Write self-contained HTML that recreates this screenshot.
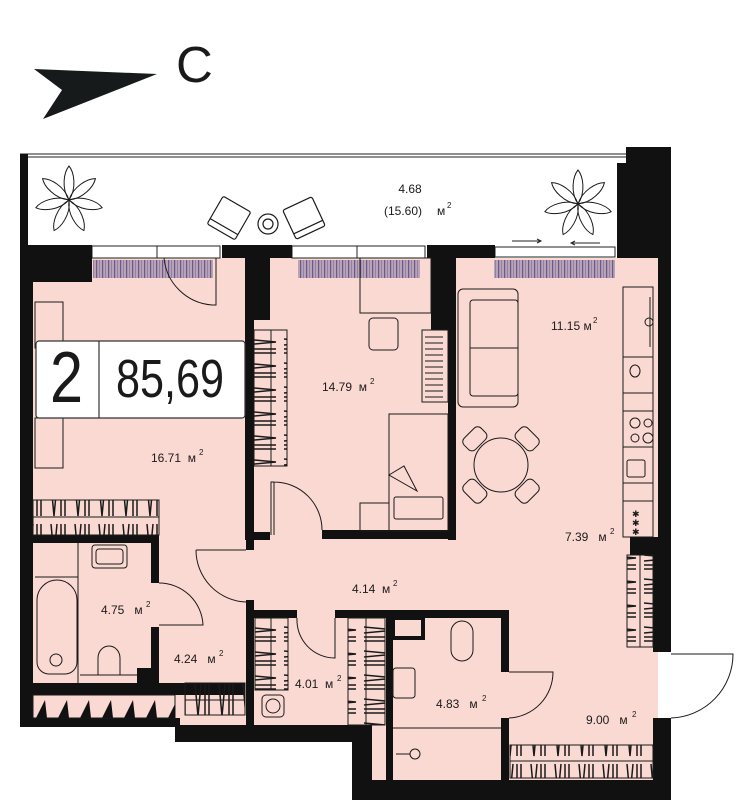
<!DOCTYPE html>
<html><head><meta charset="utf-8"><style>
html,body{margin:0;padding:0;background:#fff;}
svg{display:block;}
text{font-family:"Liberation Sans",sans-serif;fill:#1a1a1a;}
</style></head><body>
<svg width="752" height="805" viewBox="0 0 752 805" xmlns="http://www.w3.org/2000/svg">
<defs>
<pattern id="rad" width="6" height="20" patternUnits="userSpaceOnUse">
<rect width="6" height="20" fill="#b9a3b8"/><rect x="0" width="1.2" height="20" fill="#6a5a88"/><rect x="3" width="0.8" height="20" fill="#8a78a0"/>
</pattern>
<pattern id="zzh" x="0" y="0" width="24" height="40" patternUnits="userSpaceOnUse">
<path d="M3,4 L6,36 L9,4 M13,4 L13,36 M17,4 L17,36" stroke="#1a1a1a" stroke-width="1.5" fill="none"/>
</pattern>
<pattern id="zzv" x="0" y="0" width="40" height="24" patternUnits="userSpaceOnUse">
<path d="M4,3 L36,6 L4,9 M4,13 L36,13 M4,17 L36,17" stroke="#1a1a1a" stroke-width="1.5" fill="none"/>
</pattern>
<g id="flower" fill="none" stroke="#1a1a1a" stroke-width="1">
<path d="M0,0 C-8,-12 -5,-28 0,-34 C5,-28 8,-12 0,0Z"/>
<path d="M0,0 C-8,-12 -5,-28 0,-34 C5,-28 8,-12 0,0Z" transform="rotate(51)"/>
<path d="M0,0 C-8,-12 -5,-28 0,-34 C5,-28 8,-12 0,0Z" transform="rotate(103)"/>
<path d="M0,0 C-8,-12 -5,-28 0,-34 C5,-28 8,-12 0,0Z" transform="rotate(154)"/>
<path d="M0,0 C-8,-12 -5,-28 0,-34 C5,-28 8,-12 0,0Z" transform="rotate(206)"/>
<path d="M0,0 C-8,-12 -5,-28 0,-34 C5,-28 8,-12 0,0Z" transform="rotate(257)"/>
<path d="M0,0 C-8,-12 -5,-28 0,-34 C5,-28 8,-12 0,0Z" transform="rotate(309)"/>
</g>
</defs>

<polygon points="34,69 157,74 43,119 62,90" fill="#161a1a"/>
<text x="176" y="82" font-size="51">C</text>

<path d="M33,258 L658,258 L658,780 L372,780 L372,742 L175,742 L175,720 L33,720 Z" fill="#fbd9d3"/>

<line x1="20" y1="154" x2="628" y2="154" stroke="#222" stroke-width="1"/>
<line x1="20" y1="157" x2="628" y2="157" stroke="#222" stroke-width="1"/>
<rect x="20" y="154" width="8" height="92" fill="#111"/>
<use href="#flower" x="69" y="200"/>
<use href="#flower" x="578" y="204"/>
<g fill="#fff" stroke="#1a1a1a" stroke-width="1.2">
<g transform="translate(229,218) rotate(30)"><rect x="-16" y="-16" width="32" height="32" rx="2"/><line x1="-16" y1="10" x2="16" y2="10"/></g>
<g transform="translate(304,218) rotate(-25)"><rect x="-16" y="-16" width="32" height="32" rx="2"/><line x1="-16" y1="10" x2="16" y2="10"/></g>
<circle cx="268" cy="224" r="10"/><circle cx="268" cy="224" r="5"/>
</g>
<text x="410" y="193" font-size="12" text-anchor="middle">4.68</text>
<text x="384" y="215" font-size="12">(15.60)</text>
<text x="437" y="215" font-size="12">м</text><text x="447" y="208" font-size="8">2</text>
<path d="M512,241 L541,241 M537,239 L541,241 L537,243 M600,243 L571,243 M575,241 L571,243 L575,245" stroke="#222" stroke-width="1" fill="none"/>

<g fill="#fff" stroke="#222" stroke-width="1">
<rect x="92" y="246" width="65" height="12"/><rect x="157" y="246" width="63" height="12"/>
<rect x="292" y="246" width="65" height="12"/><rect x="357" y="246" width="68" height="12"/>
<rect x="495" y="247" width="120" height="10"/>
</g>
<rect x="93" y="260" width="120" height="18" fill="url(#rad)"/>
<rect x="298" y="260" width="122" height="18" fill="url(#rad)"/>
<rect x="494" y="260" width="121" height="18" fill="url(#rad)"/>

<g fill="#111">
<rect x="20" y="245" width="72" height="37"/>
<rect x="20" y="245" width="13" height="482"/>
<rect x="222" y="245" width="70" height="13"/>
<rect x="245" y="245" width="25" height="75"/>
<rect x="245" y="245" width="9" height="295"/>
<rect x="427" y="245" width="68" height="13"/>
<rect x="431" y="245" width="25" height="85"/>
<rect x="448" y="245" width="8" height="295"/>
<rect x="617" y="163" width="54" height="95"/>
<rect x="626" y="147" width="45" height="18"/>
<rect x="658" y="245" width="13" height="310"/>
<rect x="653" y="540" width="18" height="112"/>
<rect x="653" y="718" width="18" height="82"/>
<rect x="352" y="780" width="319" height="20"/>
<rect x="352" y="725" width="20" height="75"/>
<rect x="175" y="725" width="197" height="17"/>
<rect x="20" y="718" width="160" height="9"/>
<rect x="33" y="683" width="212" height="12"/>
<rect x="33" y="535" width="126" height="8"/>
<rect x="151" y="535" width="8" height="48"/>
<rect x="151" y="627" width="8" height="56"/>
<rect x="137" y="668" width="14" height="15"/>
<rect x="253" y="532" width="17" height="8"/>
<rect x="322" y="530" width="134" height="9"/>
<rect x="246" y="600" width="8" height="142"/>
<rect x="246" y="540" width="8" height="10"/>
<rect x="254" y="610" width="43" height="8"/>
<rect x="335" y="610" width="174" height="8"/>
<rect x="501" y="610" width="8" height="62"/>
<rect x="501" y="718" width="8" height="62"/>
<rect x="386" y="610" width="7" height="170"/>
<rect x="393" y="618" width="30" height="20" fill="none" stroke="#111" stroke-width="4"/>
<rect x="630" y="537" width="28" height="18"/>
</g>

<g fill="none" stroke="#1a1a1a" stroke-width="1">
<path d="M216,258 L216,305 L212,305 A52,52 0 0 1 164,258"/>
<path d="M271,535 L271,482 L274,482 L274,535 M274,482 A48,48 0 0 1 322,530"/>
<path d="M196,550 L246,550 M196,550 A52,52 0 0 0 246,602"/>
<path d="M159,583 A44,44 0 0 1 203,625 L159,625"/>
<path d="M297,618 A38,38 0 0 0 335,658 L335,618"/>
<path d="M509,672 L553,672 A46,46 0 0 1 509,718"/>
<path d="M671,654 L733,654 A64,64 0 0 1 671,718"/>
</g>

<g stroke="#1a1a1a" stroke-width="1">
<rect x="33" y="500" width="126" height="35" fill="url(#zzh)"/><line x1="33" y1="517" x2="159" y2="517"/>
<rect x="254" y="330" width="33" height="136" fill="url(#zzv)"/><line x1="271" y1="330" x2="271" y2="466"/>
<rect x="422" y="330" width="26" height="72" fill="#fbd9d3"/>
<rect x="627" y="555" width="26" height="92" fill="url(#zzv)"/><line x1="640" y1="555" x2="640" y2="647"/>
<rect x="255" y="618" width="33" height="72" fill="url(#zzv)"/><line x1="271" y1="618" x2="271" y2="690"/>
<rect x="348" y="618" width="37" height="107" fill="url(#zzv)"/><line x1="366" y1="618" x2="366" y2="725"/>
<rect x="510" y="745" width="143" height="33" fill="url(#zzh)"/><line x1="510" y1="761" x2="653" y2="761"/>
<rect x="185" y="683" width="60" height="32" fill="url(#zzh)"/><line x1="185" y1="700" x2="245" y2="700"/>
<rect x="33" y="695" width="142" height="23" fill="#fbd9d3"/>
</g>
<g fill="#111"><path d="M36,718 L45,700 L47,718Z M58,718 L67,700 L69,718Z M80,718 L89,700 L91,718Z M102,718 L111,700 L113,718Z M124,718 L133,700 L135,718Z M146,718 L155,700 L157,718Z M168,718 L175,704 L175,718Z"/></g>
<g stroke="#1a1a1a" stroke-width="1"><path d="M425,337 h18 M425,343 h18 M425,349 h18 M425,355 h18 M425,361 h18 M425,367 h18 M425,373 h18 M425,379 h18 M425,385 h18 M425,391 h18 M425,397 h18"/></g>

<g fill="none" stroke="#1a1a1a" stroke-width="1">
<rect x="360" y="258" width="71" height="55"/>
<rect x="369" y="318" width="29" height="32" rx="4"/>
<rect x="389" y="414" width="59" height="117"/>
<rect x="394" y="497" width="49" height="22" rx="2"/>
<path d="M389,475 L404,466 L417,491 Z"/>
<rect x="360" y="503" width="29" height="28"/>
<rect x="35" y="302" width="28" height="46"/>
<rect x="35" y="418" width="28" height="50"/>
<rect x="458" y="289" width="60" height="118" rx="5"/>
<line x1="470" y1="348" x2="518" y2="348"/>
<rect x="470" y="300" width="48" height="96" rx="3"/>
<circle cx="501" cy="465" r="27"/>
<g transform="translate(501,465)">
<rect x="-12" y="-45" width="24" height="16" rx="5" transform="rotate(-45)"/>
<rect x="-12" y="-45" width="24" height="16" rx="5" transform="rotate(45)"/>
<rect x="-12" y="-45" width="24" height="16" rx="5" transform="rotate(135)"/>
<rect x="-12" y="-45" width="24" height="16" rx="5" transform="rotate(225)"/>
</g>
<rect x="623" y="287" width="30" height="70"/>
<line x1="650" y1="297" x2="650" y2="347"/><circle cx="649" cy="322" r="4"/>
<rect x="623" y="357" width="30" height="36"/>
<rect x="623" y="393" width="30" height="18"/>
<rect x="623" y="411" width="30" height="36"/>
<circle cx="635" cy="423" r="5"/><circle cx="648" cy="423" r="4"/><circle cx="635" cy="438" r="4"/><circle cx="648" cy="438" r="5"/>
<rect x="623" y="447" width="30" height="36"/>
<rect x="627" y="460" width="18" height="17" rx="2"/>
<rect x="623" y="483" width="30" height="18"/>
<rect x="623" y="501" width="30" height="36"/>
<text x="632" y="517" font-size="9" stroke="none">✱</text><text x="632" y="526" font-size="9" stroke="none">✱</text><text x="632" y="535" font-size="9" stroke="none">✱</text>
<path d="M635,365 a5,6 0 1 1 0,12 a5,6 0 1 1 0,-12 Z"/>
<rect x="92" y="545" width="35" height="23" rx="3"/><rect x="96" y="549" width="27" height="15" rx="3"/>
<line x1="35" y1="577" x2="78" y2="577"/><line x1="78" y1="543" x2="78" y2="683"/>
<path d="M37,600 A20,20 0 0 1 77,600 L77,662 A12,12 0 0 1 65,674 L49,674 A12,12 0 0 1 37,662 Z"/>
<circle cx="56" cy="660" r="6"/>
<path d="M98,662 L98,658 A11,12 0 0 1 120,658 L120,675 L98,675 Z"/>
<line x1="80" y1="675" x2="137" y2="675"/>
<rect x="262" y="695" width="22" height="22" rx="4"/><circle cx="273" cy="706" r="7"/>
<path d="M451,632 A11,11 0 0 1 473,632 L473,650 A11,11 0 0 1 451,650 Z"/>
<rect x="393" y="668" width="22" height="30" rx="3"/>
<line x1="393" y1="728" x2="501" y2="728"/>
<circle cx="415" cy="754" r="5"/><line x1="396" y1="754" x2="410" y2="754"/>
</g>

<rect x="36" y="341" width="209" height="77" rx="3" fill="#fff" stroke="#333" stroke-width="1.2"/>
<line x1="99" y1="341" x2="99" y2="418" stroke="#333" stroke-width="1.2"/>
<text x="50" y="402" font-size="72" textLength="33" lengthAdjust="spacingAndGlyphs">2</text>
<text x="116" y="397" font-size="54" textLength="108" lengthAdjust="spacingAndGlyphs">85,69</text>

<g font-size="12">
<text x="551" y="330">11.15 м</text><text x="593" y="323" font-size="8">2</text>
<text x="322" y="391">14.79 &#160;м</text><text x="370" y="384" font-size="8">2</text>
<text x="151" y="462">16.71 &#160;м</text><text x="199" y="455" font-size="8">2</text>
<text x="565" y="541">7.39 &#160;&#160;м</text><text x="610" y="534" font-size="8">2</text>
<text x="352" y="593">4.14 &#160;м</text><text x="393" y="586" font-size="8">2</text>
<text x="101" y="614">4.75 &#160;&#160;м</text><text x="146" y="607" font-size="8">2</text>
<text x="174" y="663">4.24 &#160;&#160;м</text><text x="219" y="656" font-size="8">2</text>
<text x="295" y="688">4.01 &#160;м</text><text x="337" y="681" font-size="8">2</text>
<text x="436" y="708">4.83 &#160;&#160;м</text><text x="482" y="701" font-size="8">2</text>
<text x="586" y="724">9.00 &#160;&#160;м</text><text x="632" y="717" font-size="8">2</text>
</g>
</svg>
</body></html>
